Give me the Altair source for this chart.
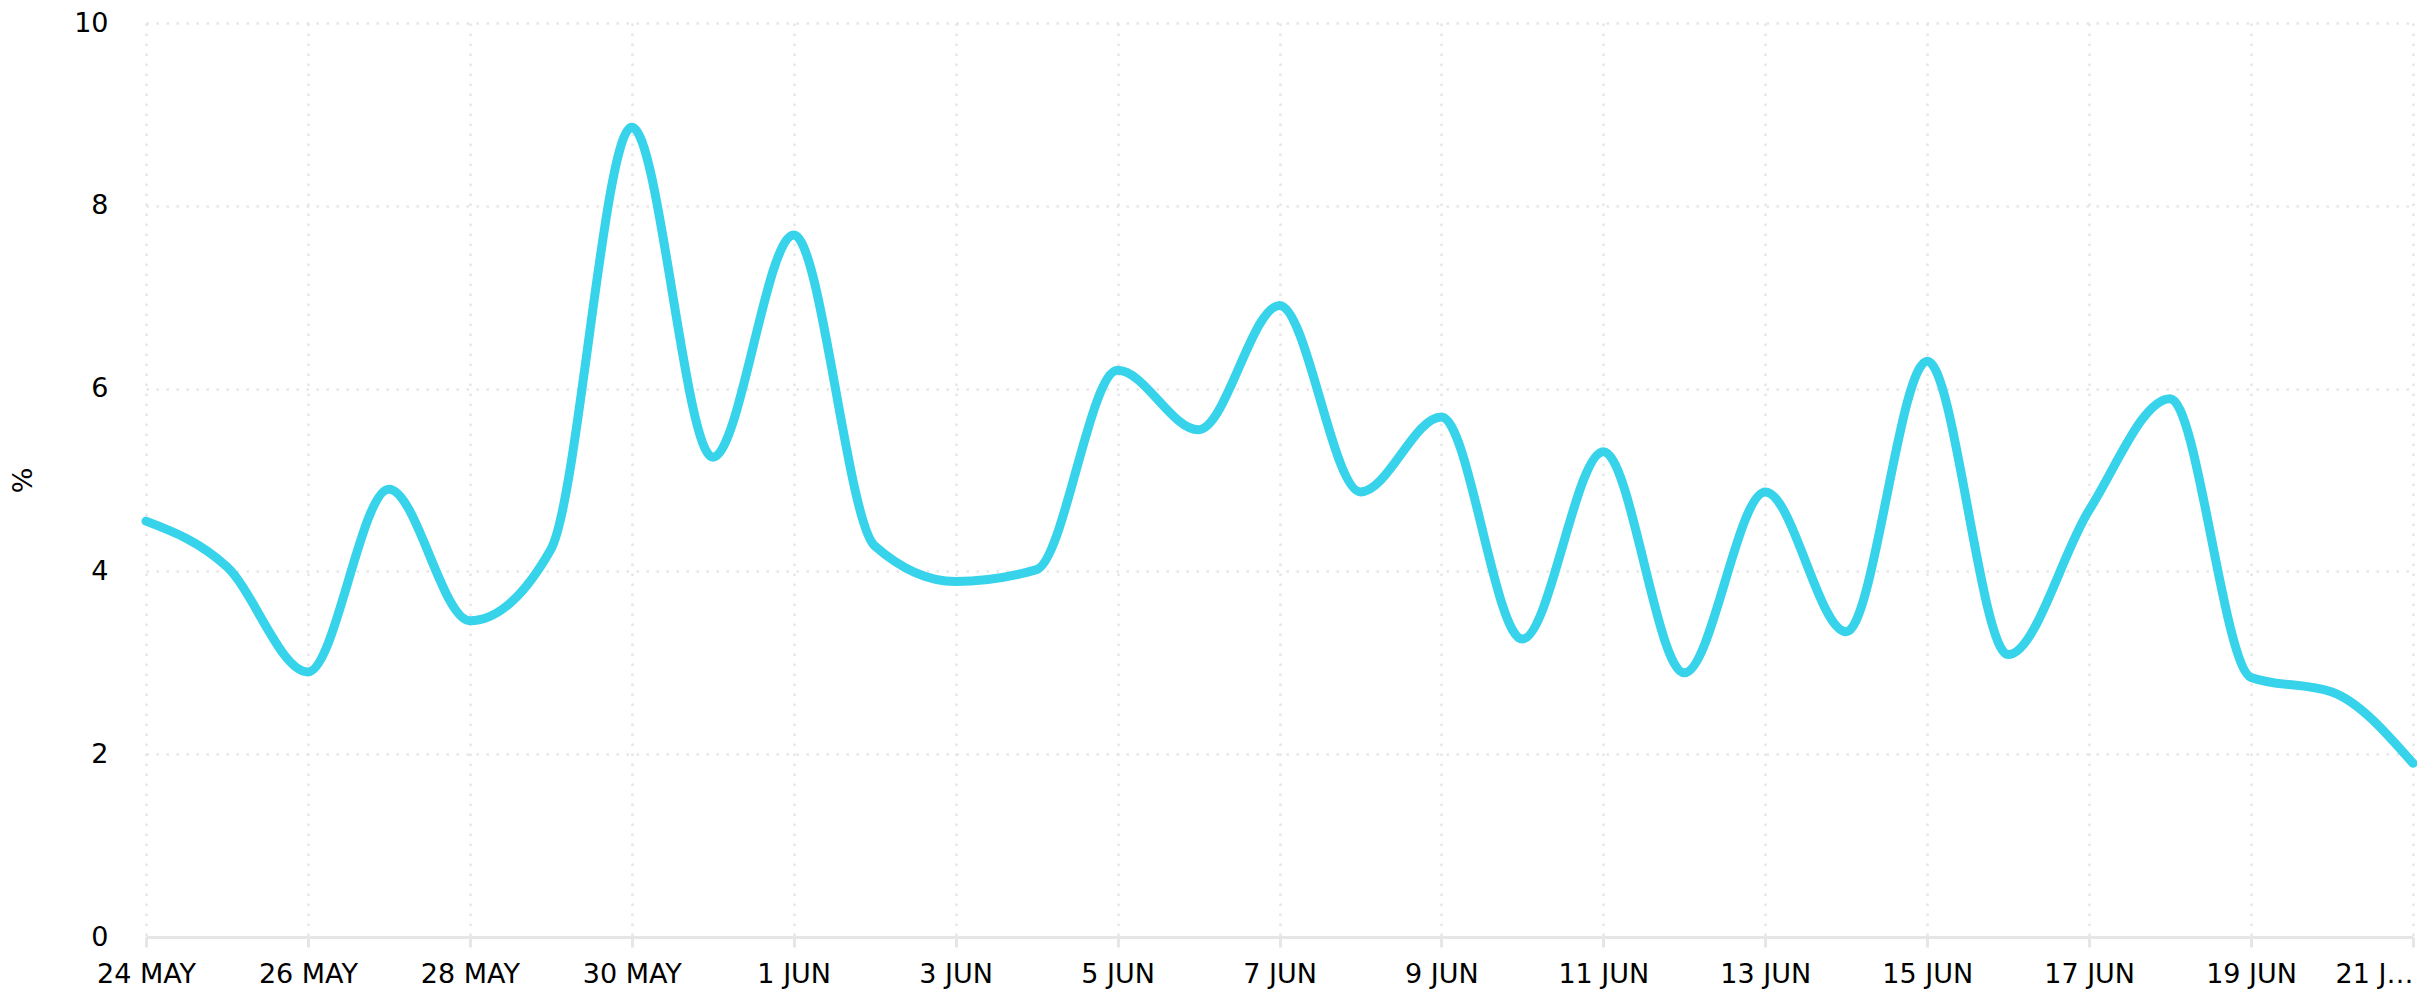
import altair as alt
import pandas as pd

dates = pd.date_range("2021-05-24", "2021-06-21", freq="D").strftime("%Y-%m-%dT00:00:00").tolist()
values = [4.55, 4.05, 2.9, 4.9, 3.46, 4.24, 8.86, 5.25, 7.68, 4.28, 3.89, 4.02, 6.2, 5.55,
          6.91, 4.87, 5.69, 3.26, 5.31, 2.89, 4.87, 3.34, 6.3, 3.09, 4.67, 5.89, 2.84, 2.68, 1.9]
tick_days = [(5, 24), (5, 26), (5, 28), (5, 30), (6, 1), (6, 3), (6, 5), (6, 7), (6, 9),
             (6, 11), (6, 13), (6, 15), (6, 17), (6, 19), (6, 21)]
y_ticks = [0, 2, 4, 6, 8, 10]

df = pd.DataFrame({"date": dates, "pct": values})

FONT = "DejaVu Sans"
GRID = "#e6e6e6"

x_axis = alt.Axis(
    values=[alt.DateTime(year=2021, month=m, date=d) for m, d in tick_days],
    labelExpr="month(datum.value) == 5 && date(datum.value) == 21 ? '21 J\u2026' : upper(timeFormat(datum.value, '%-d %b'))",
    labelAlign={"condition": {"test": "month(datum.value) == 5 && date(datum.value) == 21", "value": "right"}, "value": "center"},
    labelFont=FONT, labelFontSize=27, labelColor="#000000", labelPadding=14,
    labelOverlap=False, labelFlush=False,
    domainColor="#e6e6e6", domainWidth=3, tickColor="#e6e6e6", tickWidth=3, tickSize=10,
    grid=True, gridColor=GRID, gridDash=[2.5, 7.5], gridWidth=2.5,
    title=None,
)

y_axis = alt.Axis(
    values=y_ticks,
    labelFont=FONT, labelFontSize=27, labelColor="#000000", labelPadding=38,
    ticks=False, domain=False,
    grid=True, gridColor=GRID, gridDash=[2.5, 7.5], gridWidth=2.5,
    title="%", titleFont=FONT, titleFontSize=27, titleFontWeight="normal", titleColor="#000000",
    titleAngle=270, titleAlign="center", titleBaseline="middle", titleX=-123, titleY=457,
)

chart = alt.Chart(df).mark_line(
    interpolate="monotone", color="#36d3ea", strokeWidth=9, strokeCap="round"
).encode(
    x=alt.X("date:T", axis=x_axis,
            scale=alt.Scale(domain=[alt.DateTime(year=2021, month=5, date=24),
                                    alt.DateTime(year=2021, month=6, date=21)])),
    y=alt.Y("pct:Q", axis=y_axis, scale=alt.Scale(domain=[0, 10], nice=False)),
).properties(
    width=2267, height=914,
    autosize=alt.AutoSizeParams(type="none"),
    padding={"left": 138, "top": 15, "right": 4, "bottom": 60},
).configure_view(stroke=None)

chart.save("out.html", embed_options={"renderer": "svg", "actions": False})
